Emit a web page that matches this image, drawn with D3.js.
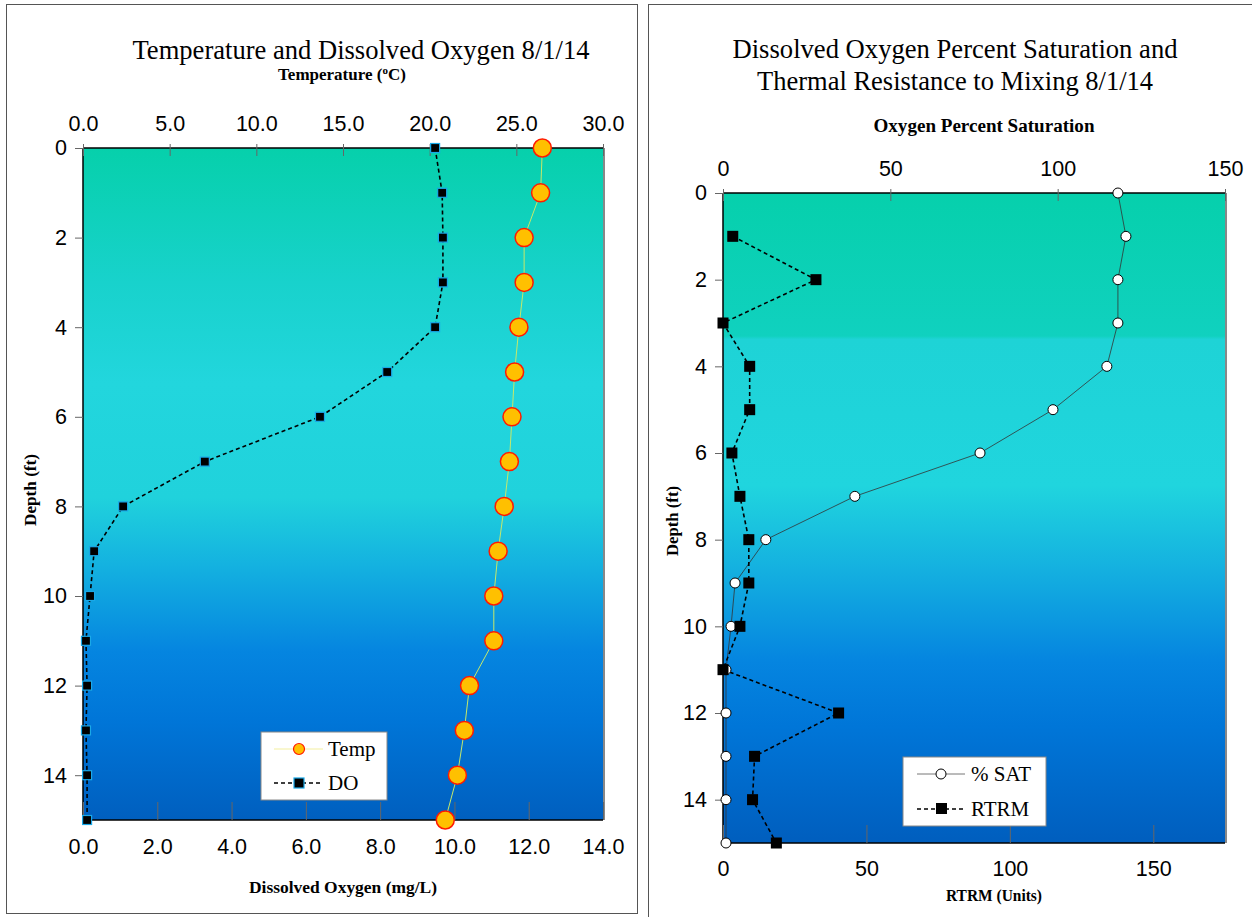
<!DOCTYPE html>
<html><head><meta charset="utf-8">
<script src="https://cdn.jsdelivr.net/npm/d3@7"></script>
<style>body{margin:0;background:#fff}svg{display:block}</style>
</head><body>
<svg id="c" width="1252" height="917"></svg>
<script>
const depth = [0,1,2,3,4,5,6,7,8,9,10,11,12,13,14,15];
const temp = [26.5,26.4,25.45,25.45,25.15,24.9,24.75,24.6,24.3,23.95,23.7,23.7,22.3,22.0,21.6,20.9];
const doVals = [9.48,9.67,9.69,9.69,9.48,8.19,6.38,3.28,1.08,0.30,0.19,0.08,0.11,0.08,0.11,0.11];
const satVals = [118,120.4,118,118,114.7,98.6,76.8,39.4,12.8,3.6,2.4,0.9,0.9,0.9,0.9,0.9];
const rtrmDepth = [1,2,3,4,5,6,7,8,9,10,11,12,13,14,15];
const rtrmVals = [3.4,32.4,0,9.3,9.3,3.1,5.9,9.0,9.0,5.9,0,40.3,11,10.3,18.6];
const tempTicks = [0,5,10,15,20,25,30];
const doTicks = [0,2,4,6,8,10,12,14];
const depthTicks = [0,2,4,6,8,10,12,14];
const satTicks = [0,50,100,150];
const rtrmTicks = [0,50,100,150];

const svg = d3.select("#c");
const serif = "'Liberation Serif','Times New Roman',serif";
const sans = "'Liberation Sans',Arial,sans-serif";
const defs = svg.append("defs");

function grad(id, stops){
  const g = defs.append("linearGradient").attr("id",id).attr("x1",0).attr("y1",0).attr("x2",0).attr("y2",1);
  stops.forEach(s=>g.append("stop").attr("offset",s[0]).attr("stop-color",s[1]));
}
grad("gL",[[0,"#06d0ab"],[0.2,"#18d2cc"],[0.35,"#22d6dd"],[0.52,"#20d2dc"],[0.62,"#14b2e0"],[0.75,"#0585e0"],[0.85,"#0076d8"],[1,"#005fbf"]]);
grad("gR",[[0,"#06d0ac"],[0.22,"#10d1bf"],[0.225,"#1ed3d6"],[0.45,"#20d5de"],[0.58,"#14b0e0"],[0.72,"#0585e0"],[0.82,"#0076d8"],[1,"#005ebe"]]);

function label(x, y, txt, size, len, opts={}){
  const t = svg.append("text").attr("x",x).attr("y",y).attr("text-anchor","middle")
    .attr("font-family",serif).attr("font-size",size).text(txt);
  if (opts.bold) t.attr("font-weight","bold");
  if (len) t.attr("textLength",len).attr("lengthAdjust","spacingAndGlyphs");
  if (opts.rotate) t.attr("transform",`rotate(-90,${x},${y})`);
  return t;
}

// panel frames
svg.append("rect").attr("x",6.5).attr("y",4.5).attr("width",631).attr("height",909).attr("fill","none").attr("stroke","#555").attr("stroke-width",1);
svg.append("rect").attr("x",648.5).attr("y",4.5).attr("width",610).attr("height",920).attr("fill","none").attr("stroke","#555").attr("stroke-width",1);

function axisStyle(g, fs){
  g.selectAll("text").attr("font-family",sans).attr("font-size",fs).attr("fill","#000");
  g.select(".domain").remove();
  g.selectAll("line").attr("stroke","#666");
}

// ---------- LEFT ----------
const L = {x0:83,x1:603,y0:148,y1:820};
const xT = d3.scaleLinear().domain([0,30]).range([L.x0,L.x1]);
const xD = d3.scaleLinear().domain([0,14]).range([L.x0,L.x1]);
const yL = d3.scaleLinear().domain([0,15]).range([L.y0,L.y1]);

svg.append("rect").attr("x",L.x0).attr("y",L.y0).attr("width",L.x1-L.x0).attr("height",L.y1-L.y0).attr("fill","url(#gL)");
svg.append("line").attr("x1",L.x1+1).attr("x2",L.x1+1).attr("y1",L.y0).attr("y2",L.y1).attr("stroke","#888").attr("stroke-width",2);
svg.append("line").attr("x1",L.x0).attr("x2",L.x1).attr("y1",L.y0).attr("y2",L.y0).attr("stroke","#000").attr("stroke-width",1.5);
svg.append("line").attr("x1",L.x0).attr("x2",L.x1).attr("y1",L.y1).attr("y2",L.y1).attr("stroke","#000").attr("stroke-width",1.5);
svg.append("line").attr("x1",L.x0).attr("x2",L.x0).attr("y1",L.y0).attr("y2",L.y1).attr("stroke","#000").attr("stroke-width",1.5);

let g = svg.append("g").attr("transform",`translate(0,${L.y0})`).call(d3.axisTop(xT).tickValues(tempTicks).tickFormat(d3.format(".1f")).tickSizeOuter(0));
axisStyle(g,21.5); g.selectAll("line").attr("y1",-4).attr("y2",8); g.selectAll("text").attr("y",-17);
g = svg.append("g").attr("transform",`translate(0,${L.y1})`).call(d3.axisBottom(xD).tickValues(doTicks).tickFormat(d3.format(".1f")).tickSizeOuter(0));
axisStyle(g,21.5); g.selectAll("line").attr("y1",0).attr("y2",-18); g.selectAll("text").attr("y",19);
g = svg.append("g").attr("transform",`translate(${L.x0},0)`).call(d3.axisLeft(yL).tickValues(depthTicks).tickSizeInner(8).tickSizeOuter(0).tickPadding(8));
axisStyle(g,21.5);

label(361, 59, "Temperature and Dissolved Oxygen 8/1/14", 28, 457);
const tt = svg.append("text").attr("x",342).attr("y",80).attr("text-anchor","middle").attr("font-family",serif).attr("font-size",17).attr("font-weight","bold");
tt.append("tspan").text("Temperature (");
tt.append("tspan").attr("dy",-6).attr("font-size",11).text("o");
tt.append("tspan").attr("dy",6).text("C)");
label(343, 893, "Dissolved Oxygen (mg/L)", 17, 188, {bold:true});
label(36, 490, "Depth (ft)", 16, 72, {bold:true, rotate:true});

// temp line
svg.append("path").datum(depth).attr("fill","none").attr("stroke","#c6e86a").attr("stroke-width",1)
  .attr("d",d3.line().x((d,i)=>xT(temp[i])).y(d=>yL(d)));
svg.append("path").datum(depth).attr("fill","none").attr("stroke","#000").attr("stroke-width",1.6).attr("stroke-dasharray","4,3")
  .attr("d",d3.line().x((d,i)=>xD(doVals[i])).y(d=>yL(d)));
svg.selectAll(".tc").data(depth).enter().append("circle").attr("cx",(d,i)=>xT(temp[i])).attr("cy",d=>yL(d)).attr("r",9)
  .attr("fill","#ffc000").attr("stroke","#ff1a00").attr("stroke-width",1.5);
svg.selectAll(".ds").data(depth).enter().append("rect").attr("x",(d,i)=>xD(doVals[i])-4.5).attr("y",d=>yL(d)-4.5).attr("width",9).attr("height",9)
  .attr("fill","#000").attr("stroke","#1aa8e8").attr("stroke-width",1.2);

// left legend
const lg = svg.append("g").attr("transform","translate(261,732)");
lg.append("rect").attr("width",126).attr("height",68).attr("fill","#fff").attr("stroke","#888");
lg.append("line").attr("x1",13).attr("x2",62).attr("y1",17).attr("y2",17).attr("stroke","#f4f0a0").attr("stroke-width",1.2);
lg.append("circle").attr("cx",38).attr("cy",17).attr("r",5.5).attr("fill","#ffc000").attr("stroke","#ff1a00").attr("stroke-width",1.2);
lg.append("text").attr("x",67).attr("y",24).attr("font-family",serif).attr("font-size",21).text("Temp");
lg.append("line").attr("x1",13).attr("x2",62).attr("y1",51).attr("y2",51).attr("stroke","#000").attr("stroke-width",1.5).attr("stroke-dasharray","4,3");
lg.append("rect").attr("x",33).attr("y",46).attr("width",10).attr("height",10).attr("fill","#000").attr("stroke","#1aa8e8").attr("stroke-width",1.2);
lg.append("text").attr("x",67).attr("y",58).attr("font-family",serif).attr("font-size",21).text("DO");

// ---------- RIGHT ----------
const R = {x0:723,x1:1225,y0:193,y1:843};
const xS = d3.scaleLinear().domain([0,150]).range([R.x0,R.x1]);
const xR = d3.scaleLinear().domain([0,175]).range([R.x0,R.x1]);
const yR = d3.scaleLinear().domain([0,15]).range([R.y0,R.y1]);

svg.append("rect").attr("x",R.x0).attr("y",R.y0).attr("width",R.x1-R.x0).attr("height",R.y1-R.y0).attr("fill","url(#gR)");
svg.append("line").attr("x1",R.x1+1).attr("x2",R.x1+1).attr("y1",R.y0).attr("y2",R.y1).attr("stroke","#888").attr("stroke-width",2);
svg.append("line").attr("x1",R.x0).attr("x2",R.x1).attr("y1",R.y0).attr("y2",R.y0).attr("stroke","#000").attr("stroke-width",1.5);
svg.append("line").attr("x1",R.x0).attr("x2",R.x1).attr("y1",R.y1).attr("y2",R.y1).attr("stroke","#000").attr("stroke-width",1.5);
svg.append("line").attr("x1",R.x0).attr("x2",R.x0).attr("y1",R.y0).attr("y2",R.y1).attr("stroke","#000").attr("stroke-width",1.5);

g = svg.append("g").attr("transform",`translate(0,${R.y0})`).call(d3.axisTop(xS).tickValues(satTicks).tickSizeOuter(0));
axisStyle(g,21.5); g.selectAll("line").attr("y1",-4).attr("y2",8); g.selectAll("text").attr("y",-17);
g = svg.append("g").attr("transform",`translate(0,${R.y1})`).call(d3.axisBottom(xR).tickValues(rtrmTicks).tickSizeOuter(0));
axisStyle(g,21.5); g.selectAll("line").attr("y1",0).attr("y2",-18); g.selectAll("text").attr("y",18);
g = svg.append("g").attr("transform",`translate(${R.x0},0)`).call(d3.axisLeft(yR).tickValues(depthTicks).tickSizeInner(8).tickSizeOuter(0).tickPadding(8));
axisStyle(g,21.5);

label(955, 58, "Dissolved Oxygen Percent Saturation and", 28, 445);
label(955, 90, "Thermal Resistance to Mixing 8/1/14", 28, 396);
label(984, 132, "Oxygen Percent Saturation", 18, 221, {bold:true});
label(994, 901, "RTRM (Units)", 17, 96, {bold:true});
label(678, 521, "Depth (ft)", 16, 70, {bold:true, rotate:true});

svg.append("path").datum(depth).attr("fill","none").attr("stroke","#333").attr("stroke-width",0.8)
  .attr("d",d3.line().x((d,i)=>xS(satVals[i])).y(d=>yR(d)));
svg.append("path").datum(rtrmDepth).attr("fill","none").attr("stroke","#000").attr("stroke-width",1.6).attr("stroke-dasharray","4,3")
  .attr("d",d3.line().x((d,i)=>xR(rtrmVals[i])).y(d=>yR(d)));
svg.selectAll(".sc").data(depth).enter().append("circle").attr("cx",(d,i)=>xS(satVals[i])).attr("cy",d=>yR(d)).attr("r",5)
  .attr("fill","#fff").attr("stroke","#000").attr("stroke-width",1);
svg.selectAll(".rs").data(rtrmDepth).enter().append("rect").attr("x",(d,i)=>xR(rtrmVals[i])-5.5).attr("y",d=>yR(d)-5.5).attr("width",11).attr("height",11)
  .attr("fill","#000");

// right legend
const rg = svg.append("g").attr("transform","translate(903,757)");
rg.append("rect").attr("width",143).attr("height",69).attr("fill","#fff").attr("stroke","#888");
rg.append("line").attr("x1",14).attr("x2",62).attr("y1",17).attr("y2",17).attr("stroke","#777").attr("stroke-width",1);
rg.append("circle").attr("cx",38).attr("cy",17).attr("r",5).attr("fill","#fff").attr("stroke","#000").attr("stroke-width",1);
rg.append("text").attr("x",68).attr("y",24).attr("font-family",serif).attr("font-size",21).text("% SAT");
rg.append("line").attr("x1",14).attr("x2",62).attr("y1",52).attr("y2",52).attr("stroke","#000").attr("stroke-width",1.5).attr("stroke-dasharray","4,3");
rg.append("rect").attr("x",33).attr("y",46).attr("width",11).attr("height",11).attr("fill","#000");
rg.append("text").attr("x",68).attr("y",59).attr("font-family",serif).attr("font-size",21).text("RTRM");
</script>
</body></html>
